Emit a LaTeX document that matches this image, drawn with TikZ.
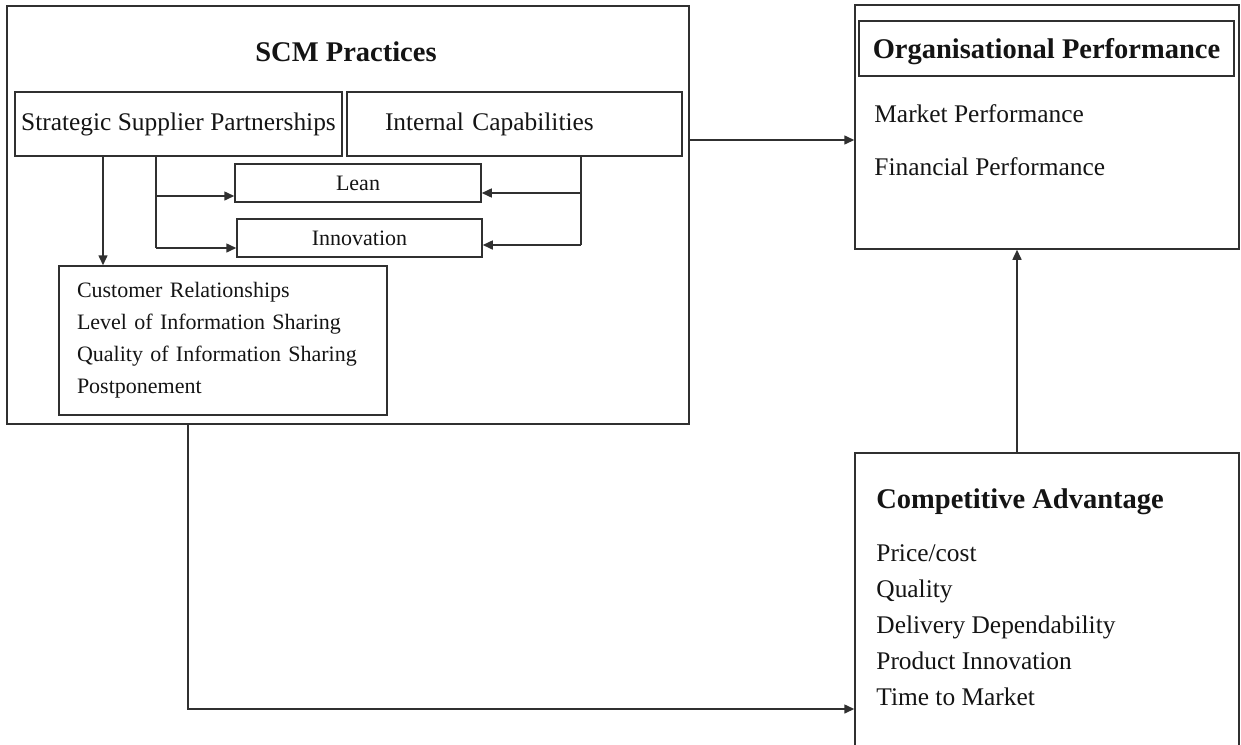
\documentclass[tikz,border=0pt]{standalone}
\usepackage{fontspec}
\setmainfont{Liberation Serif}
\usepackage{xcolor}
\usepackage{tikz}
\usetikzlibrary{positioning,arrows.meta}
\definecolor{ink}{HTML}{141414}
\definecolor{rule}{HTML}{303030}
\newcommand{\smalltext}{\fontsize{11}{16}\selectfont}
\newcommand{\bodytext}{\fontsize{12.7}{18}\selectfont}
\newcommand{\headtext}{\fontsize{14.25}{17}\selectfont\bfseries}

\begin{document}
\begin{tikzpicture}[x=0.5pt,y=-0.5pt,every node/.style={text=ink},
    frame/.style={draw=rule,line width=0.75pt,inner sep=0pt},
    item/.style={font=\bodytext,anchor=base west,inner sep=0pt},
    wire/.style={rule,line width=0.75pt},
    link/.style={wire,-{Triangle[length=5pt,width=4.5pt]}}]
    \clip (0,0) rectangle (1241,744);

    % practices block
    \node[frame,minimum width=341pt,minimum height=209pt] (scm) at (348,215) {};
    \node[font=\headtext,anchor=base,inner sep=0pt] (scmtitle) at (346,61) {SCM Practices};
    \node[frame,font=\bodytext,minimum width=163.5pt,minimum height=32pt] (ssp) at (178.5,124) {Strategic Supplier Partnerships};
    \node[frame,font=\bodytext,minimum height=32pt,inner xsep=19pt,text width=129.5pt,align=left] (ic) at (514.5,124) {Internal Capabilities};
    \node[frame,font=\smalltext,minimum width=123pt,minimum height=19pt] (lean) at (358,183) {Lean};
    \node[frame,font=\smalltext,minimum width=122.5pt,minimum height=19pt] (innov) at (359.5,238) {Innovation};
    \node[frame,font=\smalltext,minimum height=74.5pt,inner xsep=9pt,text width=146pt,align=left] (cust) at (223,340.5)
      {Customer Relationships\\Level of Information Sharing\\Quality of Information Sharing\\Postponement};

    % performance block
    \node[frame,minimum width=192pt,minimum height=122pt] (op) at (1047,127) {};
    \node[frame,font=\headtext,minimum width=187.5pt,minimum height=27.5pt,text depth=0pt] (optitle) at (1046.5,48.5) {Organisational Performance};
    \node[item] (market) at (874,122) {Market Performance};
    \node[item] (finance) at (874,175) {Financial Performance};

    % competitive advantage block
    \node[frame,minimum width=192pt,minimum height=173.5pt] (ca) at (1047,626.5) {};
    \node[font=\headtext,anchor=base west,inner sep=0pt] (catitle) at (876,508) {Competitive Advantage};
    \foreach \txt [count=\i] in {Price/cost,Quality,Delivery Dependability,Product Innovation,Time to Market}
      \node[item] (ca\i) at (876,{561+36*(\i-1)}) {\txt};

    % links inside the practices block
    \coordinate (lbus) at ([xshift=-11.25pt]ssp.south);
    \coordinate (rbus) at ([xshift=33.25pt]ic.south);
    \coordinate (leanl) at ([yshift=-6.5pt]lean.west);
    \coordinate (innovl) at ([yshift=-5pt]innov.west);
    \coordinate (leanr) at ([yshift=-5pt]lean.east);
    \coordinate (innovr) at ([yshift=-3.5pt]innov.east);
    \draw[link] ([xshift=-37.75pt]ssp.south) -- ([xshift=-37.75pt]ssp.south |- cust.north);
    \draw[wire] (lbus) -- (lbus |- innovl);
    \draw[link] (lbus |- leanl) -- (leanl);
    \draw[link] (lbus |- innovl) -- (innovl);
    \draw[wire] (rbus) -- (rbus |- innovr);
    \draw[link] (rbus |- leanr) -- (leanr);
    \draw[link] (rbus |- innovr) -- (innovr);

    % links between blocks
    \coordinate (scmout) at ([yshift=37.5pt]scm.east);
    \draw[link] (scmout) -- (scmout -| op.west);
    \draw[link] ([xshift=-15pt]ca.north) -- ([xshift=-15pt]op.south);
    \draw[link] ([xshift=-80pt]scm.south) |- ([yshift=-41.25pt]ca.west);
\end{tikzpicture}
\end{document}
